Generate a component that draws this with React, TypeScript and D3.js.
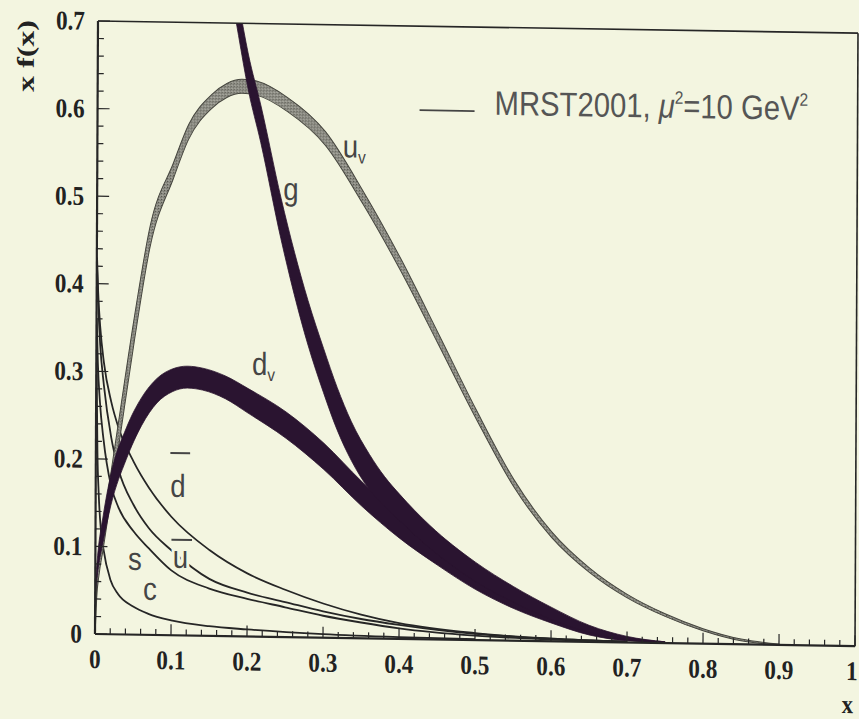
import React from 'react';
import * as d3 from 'd3';

// ---------- data ----------
const uvX = [0, 0.002, 0.005, 0.01, 0.02, 0.03, 0.05, 0.07, 0.1, 0.12, 0.15, 0.17, 0.19, 0.21, 0.25, 0.3, 0.35, 0.4, 0.45, 0.5, 0.55, 0.6, 0.65, 0.7, 0.75, 0.8, 0.85, 0.9];
const uvY = [0, 0.05, 0.08, 0.11, 0.17, 0.23, 0.35, 0.455, 0.53, 0.575, 0.61, 0.623, 0.628, 0.626, 0.608, 0.57, 0.503, 0.427, 0.343, 0.258, 0.18, 0.122, 0.082, 0.053, 0.032, 0.016, 0.005, 0.0005];
const uvErr = [0.004, 0.009, 0.012, 0.014, 0.015, 0.015, 0.014, 0.012, 0.009, 0.0085, 0.008, 0.008, 0.008, 0.008, 0.008, 0.0078, 0.0075, 0.007, 0.0062, 0.0052, 0.0042, 0.0033, 0.0026, 0.002, 0.0015, 0.0012, 0.001, 0.0005];

const dvX = [0, 0.003, 0.01, 0.02, 0.04, 0.06, 0.08, 0.1, 0.12, 0.14, 0.17, 0.2, 0.25, 0.3, 0.35, 0.4, 0.45, 0.5, 0.55, 0.6, 0.65, 0.7, 0.75];
const dvY = [0.05, 0.08, 0.12, 0.165, 0.218, 0.255, 0.279, 0.291, 0.295, 0.293, 0.284, 0.269, 0.242, 0.207, 0.165, 0.128, 0.097, 0.068, 0.045, 0.027, 0.012, 0.004, 0.001];
const dvErr = [0.005, 0.01, 0.015, 0.018, 0.018, 0.016, 0.014, 0.013, 0.0125, 0.0125, 0.013, 0.014, 0.015, 0.015, 0.014, 0.013, 0.012, 0.01, 0.008, 0.006, 0.004, 0.002, 0.0005];

const gX = [0.168, 0.178, 0.185, 0.198, 0.215, 0.242, 0.278, 0.299, 0.317, 0.336, 0.36, 0.38, 0.4, 0.44, 0.5, 0.55, 0.6, 0.65, 0.7, 0.75];
const gY = [0.8, 0.74, 0.705, 0.645, 0.585, 0.478, 0.36, 0.305, 0.262, 0.225, 0.19, 0.168, 0.15, 0.117, 0.078, 0.053, 0.032, 0.015, 0.005, 0.001];
const gErr = [0.019, 0.019, 0.019, 0.02, 0.021, 0.023, 0.025, 0.025, 0.024, 0.022, 0.02, 0.017, 0.015, 0.013, 0.011, 0.009, 0.007, 0.004, 0.002, 0.0005];

const seaX = [0.0003, 0.002, 0.005, 0.01, 0.02, 0.03, 0.05, 0.07, 0.1, 0.15, 0.2, 0.25, 0.3, 0.35, 0.4, 0.5, 0.6, 0.7];
const dbarY = [0.43, 0.39, 0.35, 0.31, 0.265, 0.235, 0.197, 0.168, 0.135, 0.098, 0.072, 0.054, 0.039, 0.027, 0.018, 0.008, 0.003, 0.001];
const ubarY = [0.42, 0.38, 0.33, 0.285, 0.225, 0.188, 0.148, 0.122, 0.097, 0.065, 0.05, 0.04, 0.03, 0.022, 0.016, 0.007, 0.003, 0.001];
const sY = [0.36, 0.31, 0.265, 0.222, 0.17, 0.145, 0.118, 0.099, 0.074, 0.054, 0.043, 0.034, 0.025, 0.018, 0.012, 0.005, 0.002, 0.0005];

const cX = [0.0003, 0.001, 0.002, 0.004, 0.007, 0.01, 0.02, 0.03, 0.05, 0.07, 0.1, 0.15, 0.2, 0.3, 0.4, 0.5];
const cY = [0.34, 0.27, 0.21, 0.16, 0.12, 0.1, 0.062, 0.046, 0.032, 0.024, 0.017, 0.011, 0.008, 0.004, 0.002, 0.001];

const xTickValues = [0, 0.1, 0.2, 0.3, 0.4, 0.5, 0.6, 0.7, 0.8, 0.9, 1];
const xTickLabels = ['0', '0.1', '0.2', '0.3', '0.4', '0.5', '0.6', '0.7', '0.8', '0.9', '1'];
const yTickValues = [0, 0.1, 0.2, 0.3, 0.4, 0.5, 0.6, 0.7];
const yTickLabels = ['0', '0.1', '0.2', '0.3', '0.4', '0.5', '0.6', '0.7'];

const legendText = 'MRST2001, ';

const W = 859;
const H = 719;
const BG = '#f3f5e0';
const INK = '#262626';
const BAND = '#2a1430';
const SERIF = '"Liberation Serif", "Times New Roman", serif';
const SANS = '"Liberation Sans", Arial, sans-serif';
const SX = 0.86;

export default function App() {
  const x = d3.scaleLinear().domain([0, 1]).range([95, 855]);
  const y = d3.scaleLinear().domain([0, 0.7]).range([634, 21]);

  const band = (xs: number[], ys: number[], es: number[]) =>
    d3
      .area<number>()
      .x((i) => x(xs[i]))
      .y0((i) => y(ys[i] - es[i]))
      .y1((i) => y(ys[i] + es[i]))
      .curve(d3.curveMonotoneX)(d3.range(xs.length)) as string;

  const line = (xs: number[], ys: number[]) =>
    d3
      .line<number>()
      .x((i) => x(xs[i]))
      .y((i) => y(ys[i]))
      .curve(d3.curveMonotoneX)(d3.range(xs.length)) as string;

  const minorX = d3.range(0, 1.0001, 0.02);
  const minorY = d3.range(0, 0.7001, 0.02);
  const isMajor = (v: number) => Math.abs(v * 10 - Math.round(v * 10)) < 1e-6;

  const T = (props: any) => {
    const { px, py, children, ...rest } = props;
    return (
      <text transform={`translate(${px},${py}) scale(${SX},1)`} {...rest}>
        {children}
      </text>
    );
  };

  return (
    <svg width={W} height={H} style={{ position: 'absolute', left: 0, top: 0 }}>
      <rect x={0} y={0} width={W} height={H} fill={BG} />
      <defs>
        <clipPath id="plot">
          <rect x={x(0)} y={y(0.7)} width={x(1) - x(0)} height={y(0) - y(0.7)} />
        </clipPath>
        <pattern id="stip" width="3" height="3" patternUnits="userSpaceOnUse">
          <rect width="3" height="3" fill="#929289" />
          <rect x="0" y="0" width="1" height="1" fill="#505049" />
          <rect x="2" y="1" width="1" height="1" fill="#66665f" />
          <rect x="1" y="2" width="1" height="1" fill="#b2b2a9" />
        </pattern>
      </defs>
      <g transform="matrix(1,0.016,-0.0049,1,3.1,-1.52)">
        <g clipPath="url(#plot)">
          {/* sea quarks */}
          <path d={line(seaX, dbarY)} fill="none" stroke={INK} strokeWidth={1.8} />
          <path d={line(seaX, ubarY)} fill="none" stroke={INK} strokeWidth={1.8} />
          <path d={line(seaX, sY)} fill="none" stroke={INK} strokeWidth={1.8} />
          <path d={line(cX, cY)} fill="none" stroke={INK} strokeWidth={1.8} />
          {/* valence u */}
          <path d={band(uvX, uvY, uvErr)} fill="url(#stip)" stroke="#46463f" strokeWidth={1} />
          {/* d valence and gluon */}
          <path d={band(dvX, dvY, dvErr)} fill={BAND} stroke={BAND} strokeWidth={0.8} />
          <path d={band(gX, gY, gErr)} fill={BAND} stroke={BAND} strokeWidth={0.8} />
        </g>

        {/* frame */}
        <line x1={x(0)} x2={x(1)} y1={y(0.7)} y2={y(0.7)} stroke={INK} strokeWidth={1.6} />
        <line x1={x(1)} x2={x(1)} y1={y(0.7)} y2={y(0)} stroke={INK} strokeWidth={1.6} />
        <line x1={x(0)} x2={x(0)} y1={y(0.7)} y2={y(0)} stroke={INK} strokeWidth={2.2} />
        <line x1={x(0)} x2={x(1)} y1={y(0)} y2={y(0)} stroke={INK} strokeWidth={2.2} />

        {minorX.map((v, i) => (
          <line key={'bx' + i} x1={x(v)} x2={x(v)} y1={y(0)} y2={y(0) - (isMajor(v) ? 11 : 6)} stroke={INK} strokeWidth={1.2} />
        ))}
        {minorY.map((v, i) => (
          <line key={'by' + i} x1={x(0)} x2={x(0) + (isMajor(v) ? 12 : 6)} y1={y(v)} y2={y(v)} stroke={INK} strokeWidth={1.2} />
        ))}

        {xTickValues.map((v, i) => (
          <T key={'xl' + i} px={v === 1 ? x(v) - 3 : x(v)} py={y(0) + 34} textAnchor="middle" fontFamily={SERIF} fontWeight="bold" fontSize={27} fill="#222">
            {xTickLabels[i]}
          </T>
        ))}
        {yTickValues.map((v, i) => (
          <T key={'yl' + i} px={x(0) - 13} py={y(v) + 9} textAnchor="end" fontFamily={SERIF} fontWeight="bold" fontSize={27} fill="#222">
            {yTickLabels[i]}
          </T>
        ))}

        {/* axis titles */}
        <text transform={`translate(31,57) rotate(-90)`} textAnchor="middle" fontFamily={SERIF} fontWeight="bold" fontSize={24} fill="#222" textLength={72} lengthAdjust="spacingAndGlyphs">
          x f(x)
        </text>
        <T px={842} py={701} fontFamily={SERIF} fontWeight="bold" fontSize={26} fill="#222">x</T>

        {/* legend */}
        <line x1={417} x2={472} y1={105} y2={105} stroke="#444" strokeWidth={1.8} />
        <T px={492} py={108.5} fontFamily={SANS} fontSize={34} fill="#555">
          {legendText}
          <tspan fontStyle="italic">μ</tspan>
          <tspan dy={-14} fontSize={18}>2</tspan>
          <tspan dy={14}>=10 GeV</tspan>
          <tspan dy={-14} fontSize={18}>2</tspan>
        </T>

        {/* curve labels */}
        <T px={x(0.323)} py={y(0.549)} fontFamily={SANS} fontSize={32} fill="#454545">
          u<tspan dy={6} fontSize={18}>v</tspan>
        </T>
        <T px={x(0.245)} py={y(0.499)} fontFamily={SANS} fontSize={32} fill="#454545">g</T>
        <T px={x(0.205)} py={y(0.299)} fontFamily={SANS} fontSize={32} fill="#454545">
          d<tspan dy={6} fontSize={18}>v</tspan>
        </T>
        <T px={x(0.098)} py={y(0.158)} fontFamily={SANS} fontSize={32} fill="#454545">d</T>
        <line x1={x(0.098)} x2={x(0.124)} y1={y(0.208)} y2={y(0.208)} stroke="#454545" strokeWidth={2} />
        <T px={x(0.102)} py={y(0.077)} fontFamily={SANS} fontSize={32} fill="#454545" stroke={BG} strokeWidth={7} paintOrder="stroke">u</T>
        <line x1={x(0.1)} x2={x(0.127)} y1={y(0.109)} y2={y(0.109)} stroke="#454545" strokeWidth={2} />
        <T px={x(0.043)} py={y(0.074)} fontFamily={SANS} fontSize={32} fill="#454545">s</T>
        <T px={x(0.063)} py={y(0.04)} fontFamily={SANS} fontSize={32} fill="#454545">c</T>
      </g>
    </svg>
  );
}
